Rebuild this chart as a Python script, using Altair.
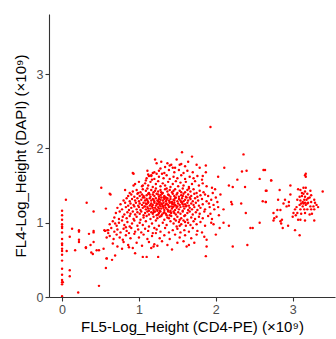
import altair as alt
import pandas as pd

# Points on the x = 0 line (FL5 ~ 0)
zero_col_y = [1.16, 1.10, 1.04, 0.98, 0.95, 0.93, 0.87, 0.78, 0.72, 0.70, 0.65, 0.62,
              0.57, 0.49, 0.38, 0.30, 0.23, 0.20, 0.17, 0.01]

# Sparse points on the left (low FL5)
left_pts = [(0.05, 1.31), (0.32, 1.27), (0.51, 1.47), (0.41, 1.15), (0.57, 1.19), (0.13, 0.92),
            (0.22, 0.90), (0.22, 0.88), (0.10, 0.81), (0.22, 0.77), (0.22, 0.74), (0.35, 0.85),
            (0.41, 0.89), (0.41, 0.87), (0.41, 0.74), (0.37, 0.70), (0.31, 0.67), (0.31, 0.66),
            (0.17, 0.63), (0.06, 0.62), (0.45, 0.63), (0.48, 0.63), (0.38, 0.60), (0.40, 0.58),
            (0.55, 0.90), (0.59, 0.90), (0.60, 0.86), (0.58, 0.80), (0.58, 0.52), (0.57, 0.39),
            (0.10, 0.36), (0.10, 0.28), (0.48, 0.15), (0.21, 0.06), (0.01, 0.20), (0.62, 1.39),
            (0.63, 1.38), (0.54, 0.65), (0.65, 0.50), (0.69, 0.56)]

# Outlying points around the main cloud
outer_pts = [(1.93, 2.29), (1.56, 1.95), (1.69, 1.89), (1.21, 1.85), (1.23, 1.80), (1.37, 1.80),
             (1.49, 1.85), (1.29, 1.82), (1.40, 1.77), (1.53, 1.78), (1.44, 1.74), (1.64, 1.82),
             (1.75, 1.78), (1.87, 1.77), (1.79, 1.74), (2.36, 1.92), (2.11, 1.74), (2.40, 1.70),
             (2.62, 1.71), (2.72, 1.57), (2.34, 1.69), (2.28, 1.58), (2.57, 1.59), (0.93, 1.66),
             (1.11, 1.70), (1.16, 1.64), (1.09, 1.57), (1.23, 1.66), (1.30, 1.66), (1.83, 1.63),
             (1.87, 1.68), (2.03, 1.62), (2.17, 1.50), (2.22, 1.48), (2.38, 1.48), (2.65, 1.43),
             (2.61, 1.29), (2.65, 1.28), (2.20, 1.28), (2.21, 1.25), (2.33, 1.26), (2.10, 1.18),
             (2.39, 1.13), (2.10, 1.00), (2.57, 1.00), (2.17, 0.96), (2.45, 0.93), (2.48, 0.93),
             (1.94, 1.00), (2.05, 0.93), (2.00, 0.84), (1.88, 0.77), (1.88, 0.68), (1.87, 0.55),
             (2.22, 0.68), (2.41, 0.70), (1.65, 0.70), (1.43, 0.64), (1.25, 0.54), (1.10, 0.54),
             (1.24, 0.69), (1.19, 0.68), (1.05, 0.54), (0.95, 0.59), (0.87, 0.67), (0.78, 0.65),
             (0.58, 0.52), (0.92, 1.67), (1.12, 1.65), (1.13, 1.63), (1.18, 1.67), (1.17, 1.58),
             (0.93, 1.50), (1.05, 1.50), (0.82, 1.44), (0.88, 1.40)]

# Right-hand population (FL5 ~ 2.7 - 3.4)
right_pts = [(3.17, 1.66), (3.17, 1.62), (3.16, 1.64), (2.72, 1.57), (2.64, 1.71), (2.97, 1.50),
             (3.39, 1.42), (2.66, 1.43), (2.83, 1.44), (2.97, 1.38), (2.65, 1.28), (2.81, 1.31),
             (2.90, 1.31), (2.88, 1.26), (2.95, 1.28), (2.95, 1.23), (2.92, 1.22), (2.80, 1.17),
             (2.84, 1.17), (2.75, 1.13), (2.76, 1.06), (2.79, 1.08), (2.75, 1.03), (2.84, 1.02),
             (2.86, 1.04), (2.85, 0.99), (2.94, 0.96), (2.87, 0.93), (3.03, 0.90), (3.09, 0.83),
             (3.07, 1.45), (3.10, 1.44), (3.14, 1.47), (3.17, 1.47), (3.12, 1.40), (3.16, 1.42),
             (3.19, 1.39), (3.23, 1.43), (3.09, 1.35), (3.12, 1.36), (3.16, 1.35), (3.22, 1.34),
             (3.24, 1.37), (3.06, 1.31), (3.10, 1.30), (3.13, 1.28), (3.15, 1.31), (3.18, 1.31),
             (3.20, 1.27), (3.24, 1.28), (3.28, 1.31), (3.29, 1.27), (3.31, 1.24), (3.33, 1.21),
             (3.27, 1.22), (3.23, 1.22), (3.17, 1.24), (3.13, 1.22), (3.09, 1.24), (3.05, 1.21),
             (3.10, 1.18), (3.15, 1.18), (3.19, 1.18), (3.24, 1.18), (3.28, 1.18), (3.03, 1.18),
             (3.01, 1.13), (3.06, 1.13), (3.11, 1.12), (3.16, 1.13), (3.22, 1.11), (3.25, 1.12),
             (3.07, 1.04), (3.10, 1.04), (3.16, 1.03), (3.28, 1.03), (3.00, 1.08), (3.04, 1.10),
             (3.14, 1.26), (3.16, 1.27), (3.19, 1.26), (3.11, 1.26), (3.20, 1.33), (3.14, 1.39)]

# Dense central population
core_pts = [
    (0.92, 1.42), (0.97, 1.44), (1.02, 1.41), (1.05, 1.45), (1.09, 1.43), (1.13, 1.40), (1.16, 1.44),
    (1.19, 1.41), (1.22, 1.46), (1.25, 1.42), (1.28, 1.44), (1.31, 1.40), (1.34, 1.45), (1.37, 1.42),
    (1.40, 1.44), (1.43, 1.41), (1.47, 1.45), (1.50, 1.40), (1.53, 1.43), (1.57, 1.46), (1.60, 1.41),
    (1.63, 1.44), (1.67, 1.42), (1.71, 1.45), (1.75, 1.40), (1.79, 1.43), (1.84, 1.41), (1.21, 1.43),
    (1.29, 1.41), (1.36, 1.46), (1.45, 1.43), (1.55, 1.41), (1.65, 1.46), (1.11, 1.46), (0.99, 1.40),
    (0.86, 1.36), (0.90, 1.38), (0.94, 1.35), (0.98, 1.39), (1.01, 1.36), (1.04, 1.38), (1.07, 1.34),
    (1.10, 1.37), (1.12, 1.39), (1.15, 1.35), (1.18, 1.38), (1.20, 1.36), (1.23, 1.39), (1.26, 1.35),
    (1.28, 1.37), (1.30, 1.39), (1.33, 1.36), (1.35, 1.34), (1.38, 1.38), (1.41, 1.35), (1.44, 1.39),
    (1.46, 1.36), (1.49, 1.38), (1.52, 1.35), (1.55, 1.37), (1.58, 1.39), (1.61, 1.35), (1.64, 1.38),
    (1.68, 1.36), (1.72, 1.39), (1.76, 1.35), (1.80, 1.37), (1.86, 1.38), (1.90, 1.36), (1.25, 1.38),
    (1.32, 1.34), (1.39, 1.37), (1.48, 1.34), (1.57, 1.36), (1.66, 1.34), (1.14, 1.38), (1.06, 1.36),
    (0.80, 1.30), (0.84, 1.33), (0.88, 1.29), (0.91, 1.32), (0.95, 1.30), (0.98, 1.33), (1.00, 1.29),
    (1.03, 1.31), (1.05, 1.34), (1.08, 1.30), (1.10, 1.32), (1.12, 1.28), (1.14, 1.33), (1.16, 1.30),
    (1.18, 1.32), (1.20, 1.29), (1.22, 1.33), (1.24, 1.30), (1.26, 1.32), (1.27, 1.28), (1.29, 1.34),
    (1.31, 1.30), (1.33, 1.32), (1.35, 1.29), (1.37, 1.33), (1.39, 1.30), (1.41, 1.32), (1.43, 1.28),
    (1.45, 1.31), (1.47, 1.33), (1.50, 1.29), (1.52, 1.32), (1.54, 1.30), (1.56, 1.33), (1.58, 1.29),
    (1.60, 1.31), (1.62, 1.34), (1.64, 1.30), (1.67, 1.32), (1.70, 1.29), (1.73, 1.33), (1.77, 1.30),
    (1.82, 1.32), (1.88, 1.29), (1.94, 1.31), (1.28, 1.31), (1.34, 1.34), (1.40, 1.28), (1.46, 1.30),
    (1.55, 1.28), (1.19, 1.31), (1.11, 1.30), (1.36, 1.31), (1.25, 1.29),
    (0.76, 1.25), (0.82, 1.27), (0.86, 1.23), (0.89, 1.26), (0.93, 1.24), (0.96, 1.27), (0.99, 1.23),
    (1.01, 1.26), (1.04, 1.24), (1.06, 1.27), (1.08, 1.22), (1.10, 1.25), (1.12, 1.27), (1.14, 1.23),
    (1.16, 1.26), (1.18, 1.24), (1.20, 1.27), (1.22, 1.23), (1.24, 1.25), (1.26, 1.27), (1.28, 1.22),
    (1.30, 1.25), (1.32, 1.27), (1.34, 1.23), (1.36, 1.26), (1.38, 1.24), (1.40, 1.27), (1.42, 1.22),
    (1.44, 1.25), (1.46, 1.27), (1.48, 1.23), (1.51, 1.26), (1.53, 1.24), (1.56, 1.27), (1.58, 1.22),
    (1.60, 1.25), (1.63, 1.27), (1.65, 1.23), (1.68, 1.26), (1.71, 1.24), (1.74, 1.27), (1.78, 1.23),
    (1.83, 1.25), (1.91, 1.26), (1.97, 1.24), (1.23, 1.26), (1.27, 1.24), (1.31, 1.23), (1.35, 1.25),
    (1.39, 1.22), (1.43, 1.26), (1.47, 1.24), (1.15, 1.24), (1.09, 1.26), (1.57, 1.25), (1.62, 1.23),
    (1.29, 1.26),
    (0.72, 1.20), (0.78, 1.18), (0.83, 1.21), (0.87, 1.17), (0.90, 1.20), (0.94, 1.22), (0.97, 1.18),
    (1.00, 1.21), (1.02, 1.17), (1.05, 1.20), (1.07, 1.22), (1.09, 1.18), (1.11, 1.21), (1.13, 1.16),
    (1.15, 1.19), (1.17, 1.22), (1.19, 1.17), (1.21, 1.20), (1.23, 1.18), (1.25, 1.21), (1.27, 1.16),
    (1.29, 1.19), (1.31, 1.22), (1.33, 1.17), (1.35, 1.20), (1.37, 1.18), (1.39, 1.21), (1.41, 1.16),
    (1.43, 1.19), (1.45, 1.22), (1.47, 1.17), (1.49, 1.20), (1.52, 1.18), (1.54, 1.21), (1.57, 1.16),
    (1.59, 1.19), (1.61, 1.22), (1.64, 1.17), (1.66, 1.20), (1.69, 1.18), (1.72, 1.21), (1.76, 1.17),
    (1.80, 1.20), (1.86, 1.18), (1.92, 1.21), (1.26, 1.19), (1.32, 1.20), (1.38, 1.16), (1.44, 1.21),
    (1.18, 1.20), (1.12, 1.19), (1.50, 1.22), (1.24, 1.16),
    (0.70, 1.13), (0.75, 1.15), (0.81, 1.11), (0.85, 1.14), (0.89, 1.12), (0.92, 1.15), (0.95, 1.11),
    (0.98, 1.14), (1.01, 1.12), (1.03, 1.15), (1.06, 1.10), (1.08, 1.13), (1.11, 1.15), (1.13, 1.11),
    (1.16, 1.14), (1.18, 1.12), (1.21, 1.15), (1.23, 1.10), (1.26, 1.13), (1.28, 1.15), (1.30, 1.11),
    (1.33, 1.14), (1.35, 1.12), (1.38, 1.15), (1.40, 1.10), (1.42, 1.13), (1.45, 1.15), (1.48, 1.11),
    (1.51, 1.14), (1.54, 1.12), (1.57, 1.15), (1.60, 1.10), (1.63, 1.13), (1.66, 1.15), (1.70, 1.11),
    (1.74, 1.14), (1.79, 1.12), (1.85, 1.15), (1.93, 1.12), (1.32, 1.13), (1.41, 1.14), (1.25, 1.11),
    (1.19, 1.14), (1.36, 1.10), (1.46, 1.13),
    (0.68, 1.07), (0.74, 1.05), (0.79, 1.08), (0.84, 1.06), (0.88, 1.09), (0.93, 1.05), (0.97, 1.08),
    (1.02, 1.04), (1.06, 1.07), (1.10, 1.09), (1.15, 1.05), (1.19, 1.08), (1.24, 1.06), (1.29, 1.09),
    (1.33, 1.04), (1.37, 1.07), (1.42, 1.09), (1.46, 1.05), (1.50, 1.08), (1.55, 1.06), (1.59, 1.09),
    (1.63, 1.04), (1.68, 1.07), (1.73, 1.05), (1.78, 1.08), (1.83, 1.06), (1.90, 1.09), (1.39, 1.06),
    (1.27, 1.08), (1.53, 1.04)]

# Lower part of the central population
lower_pts = [
    (0.62, 0.98), (0.66, 1.02), (0.71, 0.96), (0.74, 1.00), (0.78, 1.03), (0.81, 0.97), (0.85, 1.01),
    (0.88, 0.95), (0.91, 0.99), (0.94, 1.03), (0.98, 0.96), (1.01, 1.00), (1.05, 0.97), (1.09, 1.02),
    (1.13, 0.95), (1.17, 0.99), (1.22, 1.03), (1.26, 0.96), (1.31, 1.00), (1.36, 0.97), (1.41, 1.02),
    (1.45, 0.99), (1.49, 0.95), (1.52, 1.01), (1.55, 0.98), (1.58, 1.03), (1.61, 0.96), (1.64, 1.00),
    (1.67, 0.97), (1.71, 1.02), (1.75, 0.98), (1.80, 1.01), (1.86, 0.96), (1.53, 0.96), (1.60, 1.01),
    (1.48, 1.03), (0.69, 0.99), (0.83, 0.94),
    (0.60, 0.90), (0.64, 0.93), (0.68, 0.88), (0.72, 0.91), (0.76, 0.87), (0.80, 0.92), (0.84, 0.89),
    (0.87, 0.86), (0.90, 0.93), (0.95, 0.88), (0.99, 0.91), (1.03, 0.87), (1.08, 0.92), (1.12, 0.89),
    (1.18, 0.86), (1.23, 0.91), (1.28, 0.88), (1.34, 0.93), (1.39, 0.87), (1.44, 0.90), (1.50, 0.92),
    (1.54, 0.87), (1.59, 0.90), (1.65, 0.88), (1.70, 0.93), (1.76, 0.89), (1.82, 0.87), (0.56, 0.89),
    (1.20, 0.93),
    (0.62, 0.82), (0.67, 0.78), (0.71, 0.84), (0.75, 0.80), (0.79, 0.77), (0.83, 0.83), (0.89, 0.79),
    (0.94, 0.85), (1.00, 0.80), (1.06, 0.84), (1.11, 0.78), (1.17, 0.82), (1.22, 0.86), (1.27, 0.79),
    (1.33, 0.83), (1.40, 0.78), (1.47, 0.84), (1.53, 0.80), (1.60, 0.83), (1.68, 0.79), (1.75, 0.84),
    (1.85, 0.81),
    (0.66, 0.72), (0.72, 0.68), (0.80, 0.74), (0.86, 0.70), (0.92, 0.66), (0.97, 0.73), (1.04, 0.69),
    (1.13, 0.74), (1.20, 0.71), (1.30, 0.75), (1.37, 0.70), (1.50, 0.73), (1.58, 0.75), (1.72, 0.73),
    (1.62, 0.68), (1.16, 0.66)]

# Upper halo of the central population
upper_pts = [
    (0.95, 1.52), (1.00, 1.55), (1.04, 1.49), (1.08, 1.53), (1.12, 1.50), (1.15, 1.55), (1.18, 1.48),
    (1.22, 1.52), (1.25, 1.56), (1.28, 1.49), (1.31, 1.53), (1.34, 1.50), (1.38, 1.55), (1.41, 1.48),
    (1.44, 1.52), (1.48, 1.56), (1.51, 1.49), (1.54, 1.54), (1.58, 1.50), (1.61, 1.55), (1.65, 1.48),
    (1.69, 1.52), (1.73, 1.56), (1.78, 1.50), (1.83, 1.53), (1.88, 1.49), (1.95, 1.47),
    (1.10, 1.60), (1.16, 1.63), (1.20, 1.59), (1.26, 1.62), (1.32, 1.60), (1.36, 1.64), (1.40, 1.59),
    (1.45, 1.62), (1.50, 1.60), (1.55, 1.64), (1.60, 1.59), (1.66, 1.62), (1.71, 1.60), (1.76, 1.63),
    (1.82, 1.58),
    (1.20, 1.68), (1.26, 1.70), (1.33, 1.67), (1.39, 1.71), (1.46, 1.68), (1.52, 1.71), (1.58, 1.67),
    (1.63, 1.70), (1.70, 1.68), (1.34, 1.75), (1.42, 1.78), (1.60, 1.76), (1.28, 1.73), (1.47, 1.74),
    (1.55, 1.79),
    (1.96, 1.40), (2.00, 1.34), (2.02, 1.28), (1.98, 1.18), (2.04, 1.10), (1.95, 1.05), (2.06, 1.38),
    (1.99, 1.45), (2.03, 1.21), (1.97, 0.98)]

x_title = "FL5-Log_Height (CD4-PE) (×10⁹)"
y_title = "FL4-Log_Height (DAPI) (×10⁹)"
tick_values = [0, 1, 2, 3]

rows = [(0.0, v) for v in zero_col_y]
for group in (left_pts, outer_pts, right_pts, core_pts, lower_pts, upper_pts):
    rows.extend(group)
df = pd.DataFrame(rows, columns=["x", "y"])

chart = (
    alt.Chart(df)
    .mark_circle(size=6, color="#FF0000", opacity=1, clip=True)
    .encode(
        x=alt.X("x:Q", title=x_title,
                scale=alt.Scale(domain=[-0.17, 3.55], nice=False, zero=False),
                axis=alt.Axis(values=tick_values, format="d", grid=False)),
        y=alt.Y("y:Q", title=y_title,
                scale=alt.Scale(domain=[0, 3.81], nice=False, zero=False),
                axis=alt.Axis(values=tick_values, format="d", grid=False)),
    )
    .properties(width=286, height=283,
                autosize=alt.AutoSizeParams(type="none"),
                padding={"left": 49, "top": 14, "right": 1, "bottom": 42})
    .configure_view(stroke=None)
    .configure_axis(
        domainColor="#333333", domainWidth=1.1,
        tickColor="#333333", tickSize=4, tickWidth=1.1,
        labelColor="#4D4D4D", labelFont="Liberation Sans", labelFontSize=12.5,
        labelPadding=2,
        titleColor="#000000", titleFont="Liberation Sans", titleFontSize=15,
        titleFontWeight="normal",
    )
    .configure_axisX(titlePadding=4)
    .configure_axisY(titlePadding=8)
)

chart.save("out.html", embed_options={"renderer": "svg", "actions": False})
